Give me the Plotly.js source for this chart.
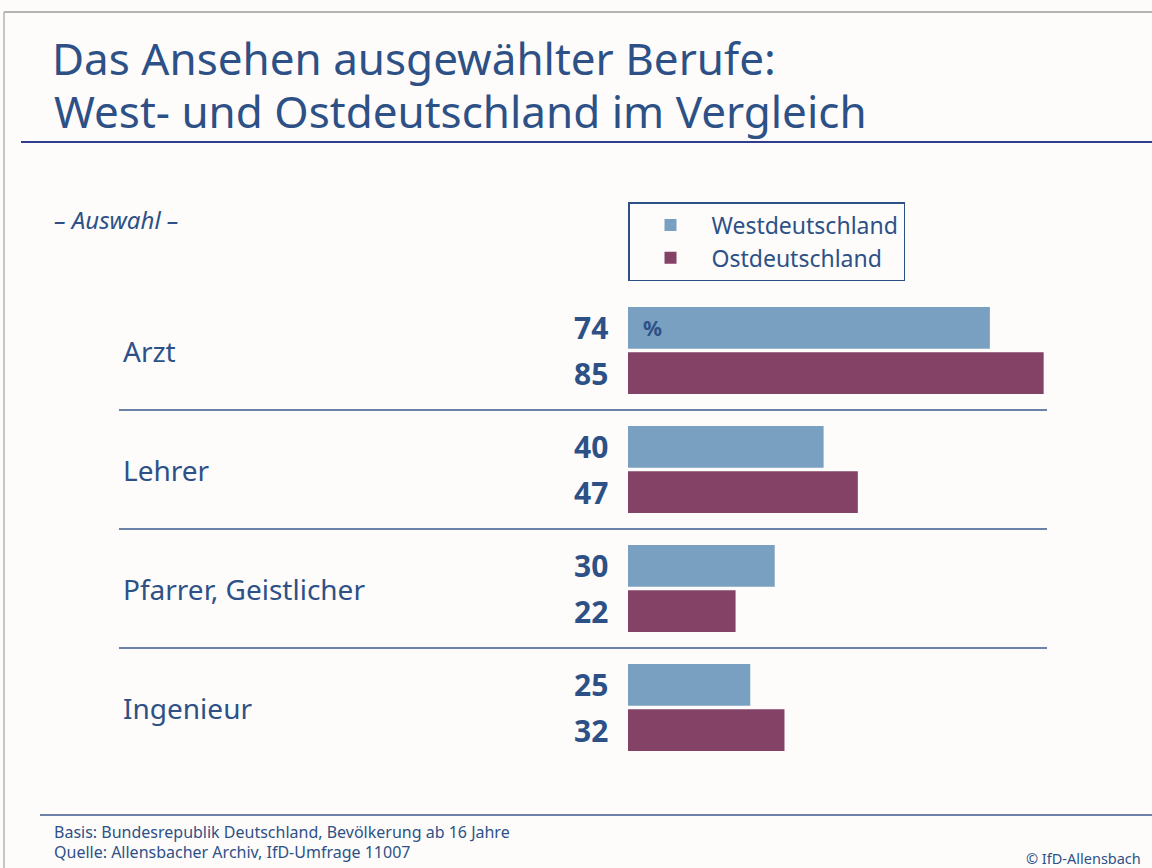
<!DOCTYPE html>
<html>
<head>
<meta charset="utf-8">
<script src="https://cdn.plot.ly/plotly-3.0.1.min.js"></script>
<style>html,body{margin:0;padding:0;background:#fdfcfb;}#chart{width:1152px;height:868px;}</style>
</head>
<body>
<div id="chart"></div>
<script>
// ---- data ----
const categories = ['Arzt', 'Lehrer', 'Pfarrer, Geistlicher', 'Ingenieur'];
const west = [74, 40, 30, 25];
const ost = [85, 47, 22, 32];
const seriesNames = ['Westdeutschland', 'Ostdeutschland'];
const titleLines = ['Das Ansehen ausgewählter Berufe:', 'West- und Ostdeutschland im Vergleich'];
const subtitle = '– Auswahl –';
const unitLabel = '%';
const footerLines = ['Basis: Bundesrepublik Deutschland, Bevölkerung ab 16 Jahre', 'Quelle: Allensbacher Archiv, IfD-Umfrage 11007'];
const copyright = '© IfD-Allensbach';

// ---- layout geometry ----
const W = 1152, H = 868;
const M = {l: 628, r: 35, t: 291, b: 101};
const PW = W - M.l - M.r, PH = H - M.t - M.b;
const px = x => (x - M.l) / PW;      // pixel -> paper x
const py = y => (H - M.b - y) / PH;  // pixel -> paper y

const BLUE = '#2d5186';
const WEST_C = '#79a0c1';
const OST_C = '#844266';
const FONT = 'Noto Sans, DejaVu Sans, sans-serif';
const barOffset = 22.6;

const traces = [
  {type: 'bar', orientation: 'h', name: seriesNames[0], y: categories, x: west,
   marker: {color: WEST_C}, hoverinfo: 'x+name'},
  {type: 'bar', orientation: 'h', name: seriesNames[1], y: categories, x: ost,
   marker: {color: OST_C}, hoverinfo: 'x+name'}
];

const annotations = [];
// second title line
annotations.push({xref: 'paper', yref: 'paper', x: px(52), y: py(111), xanchor: 'left', yanchor: 'middle',
  text: titleLines[1], showarrow: false, font: {family: FONT, size: 44, color: BLUE}});
categories.forEach((c, i) => {
  annotations.push({xref: 'paper', yref: 'y', x: px(121), y: i, xanchor: 'left', yanchor: 'middle',
    text: c, showarrow: false, font: {family: FONT, size: 28, color: BLUE}});
  annotations.push({xref: 'paper', yref: 'y', x: px(610), y: i, yshift: barOffset, xanchor: 'right', yanchor: 'middle',
    text: String(west[i]), showarrow: false, font: {family: FONT, size: 30, color: BLUE, weight: 'bold'}});
  annotations.push({xref: 'paper', yref: 'y', x: px(610), y: i, yshift: -barOffset, xanchor: 'right', yanchor: 'middle',
    text: String(ost[i]), showarrow: false, font: {family: FONT, size: 30, color: BLUE, weight: 'bold'}});
});
annotations.push({xref: 'paper', yref: 'y', x: px(641), y: 0, yshift: barOffset, xanchor: 'left', yanchor: 'middle',
  text: unitLabel, showarrow: false, font: {family: FONT, size: 21, color: BLUE, weight: 'bold'}});
annotations.push({xref: 'paper', yref: 'paper', x: px(52), y: py(219), xanchor: 'left', yanchor: 'middle',
  text: '<i>' + subtitle + '</i>', showarrow: false, font: {family: FONT, size: 24, color: BLUE}});
footerLines.forEach((t, k) => {
  annotations.push({xref: 'paper', yref: 'paper', x: px(52), y: py(832 + 20 * k), xanchor: 'left', yanchor: 'middle',
    text: t, showarrow: false, font: {family: FONT, size: 16, color: BLUE}});
});
annotations.push({xref: 'paper', yref: 'paper', x: px(1143), y: py(858), xanchor: 'right', yanchor: 'middle',
  text: copyright, showarrow: false, font: {family: FONT, size: 14.5, color: BLUE}});

const shapes = [
  // page frame
  {type: 'line', xref: 'paper', yref: 'paper', x0: px(4), x1: px(1152), y0: py(12), y1: py(12), line: {color: '#b3b3b3', width: 2}},
  {type: 'line', xref: 'paper', yref: 'paper', x0: px(4), x1: px(4), y0: py(12), y1: py(868), line: {color: '#b3b3b3', width: 1.5}},
  // title rule
  {type: 'line', xref: 'paper', yref: 'paper', x0: px(21), x1: px(1152), y0: py(142), y1: py(142), line: {color: '#2e3d8c', width: 2}},
  // footer rule
  {type: 'line', xref: 'paper', yref: 'paper', x0: px(40), x1: px(1152), y0: py(815), y1: py(815), line: {color: '#6f80a8', width: 2}}
];
// separators between categories
for (let k = 1; k < categories.length; k++) {
  const frac = (categories.length - k) / categories.length;
  shapes.push({type: 'line', xref: 'paper', yref: 'paper', x0: px(119), x1: px(1047), y0: frac, y1: frac,
    line: {color: '#3a5a8c', width: 1.5}});
}

const layout = {
  width: W, height: H,
  margin: M,
  paper_bgcolor: '#fdfcfb', plot_bgcolor: 'rgba(0,0,0,0)',
  title: {text: titleLines[0], x: 52 / W, xanchor: 'left', xref: 'container',
          y: 1 - 44 / H, yanchor: 'top', yref: 'container',
          font: {family: FONT, size: 44, color: BLUE}},
  barmode: 'group', bargap: 0.24, bargroupgap: 0.08,
  xaxis: {range: [0, 100], visible: false, fixedrange: true},
  yaxis: {type: 'category', categoryorder: 'array', categoryarray: categories, range: [3.5, -0.5],
          showticklabels: false, showgrid: false, zeroline: false, showline: false, ticks: '', fixedrange: true},
  showlegend: true,
  legend: {x: 0, y: py(202), xanchor: 'left', yanchor: 'top', orientation: 'v',
           bgcolor: 'rgba(0,0,0,0)', bordercolor: BLUE, borderwidth: 1.5,
           font: {family: FONT, size: 23, color: BLUE}, itemwidth: 72, tracegroupgap: 0},
  annotations: annotations,
  shapes: shapes
};

Plotly.newPlot('chart', traces, layout, {displayModeBar: false, staticPlot: true});
</script>
</body>
</html>
